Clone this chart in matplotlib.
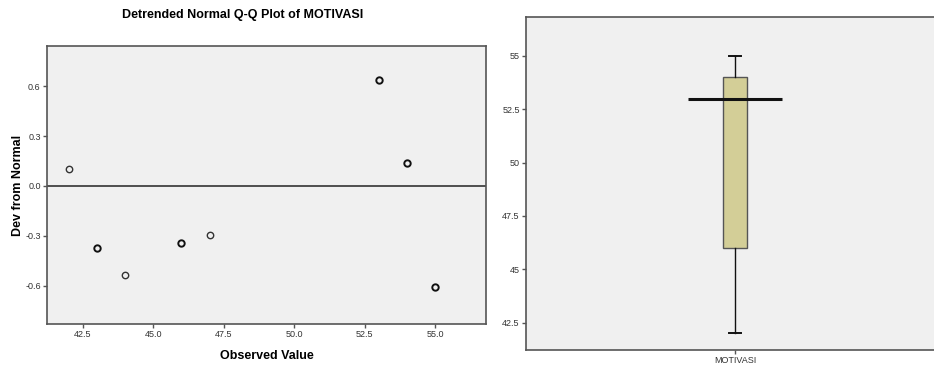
import matplotlib
matplotlib.use('Agg')
import matplotlib.pyplot as plt

plt.rcParams['font.family'] = ['Liberation Sans', 'DejaVu Sans']

# detrended Q-Q data
observed = [42, 43, 44, 46, 47, 53, 54, 55]
dev_normal = [0.100, -0.372, -0.534, -0.340, -0.296, 0.640, 0.136, -0.608]
heavy = [False, True, False, True, False, True, True, True]   # overlapping points look darker

# box plot summary
var_name = 'MOTIVASI'
box_min, box_q1, box_med, box_q3, box_max = 42, 46, 53, 54, 55

bg = '#F0F0F0'
frame = '#555555'

fig = plt.figure(figsize=(9.34, 3.66), dpi=100)

# ---- left: detrended Q-Q plot
ax1 = fig.add_axes([0.0503, 0.1148, 0.470, 0.7596])
ax1.set_facecolor(bg)
ax1.axhline(0, color='#222222', lw=1.1, zorder=1)
for x, y, h in zip(observed, dev_normal, heavy):
    ax1.plot(x, y, 'o', ms=4.6, mfc='none', mec='#111111' if h else '#333333',
             mew=1.4 if h else 1.0, zorder=3)
ax1.set_xlim(41.23, 56.8)
ax1.set_ylim(-0.83, 0.842)
ax1.set_xticks([42.5, 45.0, 47.5, 50.0, 52.5, 55.0])
ax1.set_xticklabels(['42.5', '45.0', '47.5', '50.0', '52.5', '55.0'])
ax1.set_yticks([-0.6, -0.3, 0.0, 0.3, 0.6])
ax1.set_yticklabels(['-0.6', '-0.3', '0.0', '0.3', '0.6'])
ax1.tick_params(direction='out', length=3, width=1, color=frame, labelsize=6.5,
                labelcolor='#333333', pad=1.5)
for s in ax1.spines.values():
    s.set_color(frame)
    s.set_linewidth(1.2)
ax1.set_xlabel('Observed Value', fontsize=9, fontweight='bold', labelpad=8)
ax1.set_ylabel('Dev from Normal', fontsize=9, fontweight='bold', labelpad=1)
fig.text(0.2596, 0.959, 'Detrended Normal Q-Q Plot of ' + var_name, ha='center', va='center',
         fontsize=9, fontweight='bold')

# ---- right: box plot (axes runs past the right edge of the image)
ax2 = fig.add_axes([0.5632, 0.0437, 0.4482, 0.9107])
ax2.set_facecolor(bg)
stats = [dict(med=box_med, q1=box_q1, q3=box_q3, whislo=box_min, whishi=box_max, label=var_name)]
ax2.bxp(stats, positions=[1], widths=0.115, showfliers=False, patch_artist=True,
        boxprops=dict(facecolor='#D3CE97', edgecolor='#555555', linewidth=1),
        whiskerprops=dict(color='#111111', linewidth=1),
        capprops=dict(color='#111111', linewidth=1.4),
        medianprops=dict(visible=False))
ax2.hlines(box_med, 1 - 0.2245, 1 + 0.2245, colors='#111111', linewidth=2.2, zorder=4)
ax2.set_xlim(0, 2)
ax2.set_ylim(41.22, 56.84)
ax2.set_yticks([42.5, 45, 47.5, 50, 52.5, 55])
ax2.set_yticklabels(['42.5', '45', '47.5', '50', '52.5', '55'])
ax2.set_xticks([1])
ax2.set_xticklabels([var_name])
ax2.tick_params(direction='out', length=3, width=1, color=frame, labelsize=6.5,
                labelcolor='#333333', pad=1.5)
for s in ax2.spines.values():
    s.set_color(frame)
    s.set_linewidth(1.2)

fig.savefig('out.png', dpi=100)
